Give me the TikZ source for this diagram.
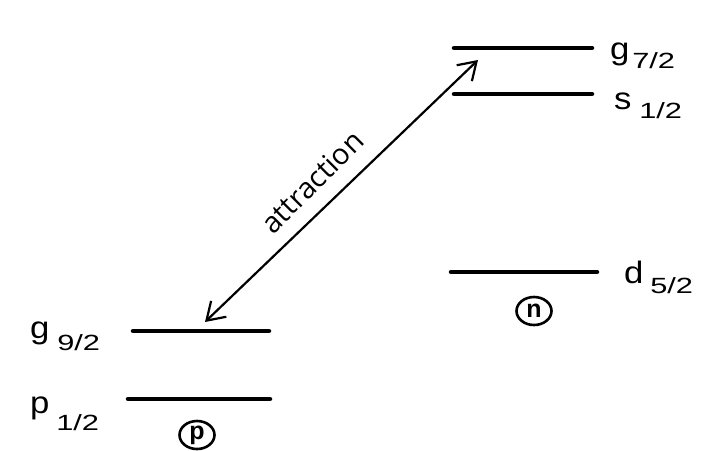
\documentclass[tikz,border=0pt]{standalone}
\usepackage{fontspec}
\setmainfont{Liberation Sans}
\newfontfamily\attrfont{Open Sans}
\usetikzlibrary{arrows.meta,shapes.geometric}
\tikzset{
  level/.style={line width=4.5pt, line cap=round},
  mainlbl/.style={anchor=base west, inner sep=0pt, font=\fontsize{31}{31}\selectfont, xscale=1.12},
  sublbl/.style={anchor=base west, inner sep=0pt, font=\fontsize{22}{22}\selectfont, xscale=1.4},
  circlbl/.style={draw, ellipse, line width=2.6pt, inner sep=0pt, minimum width=35pt, minimum height=28pt, font=\fontsize{25}{25}\selectfont\bfseries},
  attrarrow/.style={line width=2.2pt, {Straight Barb[length=17pt,width=22pt,line width=2.2pt]}-{Straight Barb[length=17pt,width=22pt,line width=2.2pt]}}
}
\begin{document}
\begin{tikzpicture}[x=1pt,y=-1pt]
\useasboundingbox (0,0) rectangle (706,450);
% levels (neutron side)
\draw[level] (454,48) coordinate (g7a) -- (592,48) coordinate (g7b);
\draw[level] (454,94) coordinate (s1a) -- (592,94) coordinate (s1b);
\draw[level] (451,272) coordinate (d5a) -- (597,272) coordinate (d5b);
% levels (proton side)
\draw[level] (133,331) coordinate (g9a) -- (269,331) coordinate (g9b);
\draw[level] (128,399) coordinate (p1a) -- (270,399) coordinate (p1b);
% labels
\node[mainlbl] (lg7) at (610,59) {g};
\node[sublbl] (lg7s) at (632,68) {7/2};
\node[mainlbl] (ls1) at (614,109) {s};
\node[sublbl] (ls1s) at (639,118) {1/2};
\node[mainlbl] (ld5) at (624,283) {d};
\node[sublbl] (ld5s) at (650,293) {5/2};
\node[mainlbl] (lg9) at (30,338) {g};
\node[sublbl] (lg9s) at (57,350) {9/2};
\node[mainlbl] (lp1) at (30,413) {p};
\node[sublbl] (lp1s) at (56,430) {1/2};
% particle markers
\node[circlbl] (nn) at (534,311) {n};
\node[circlbl] (pp) at (197,435) {p};
% attraction arrow
\coordinate (tipA) at (205,322);
\coordinate (tipB) at (478,60);
\draw[attrarrow] (tipA) -- (tipB);
\node[inner sep=0pt, rotate=45, font=\attrfont\fontsize{29}{29}\selectfont] (attr) at (312,182) {attraction};
\end{tikzpicture}
\end{document}
